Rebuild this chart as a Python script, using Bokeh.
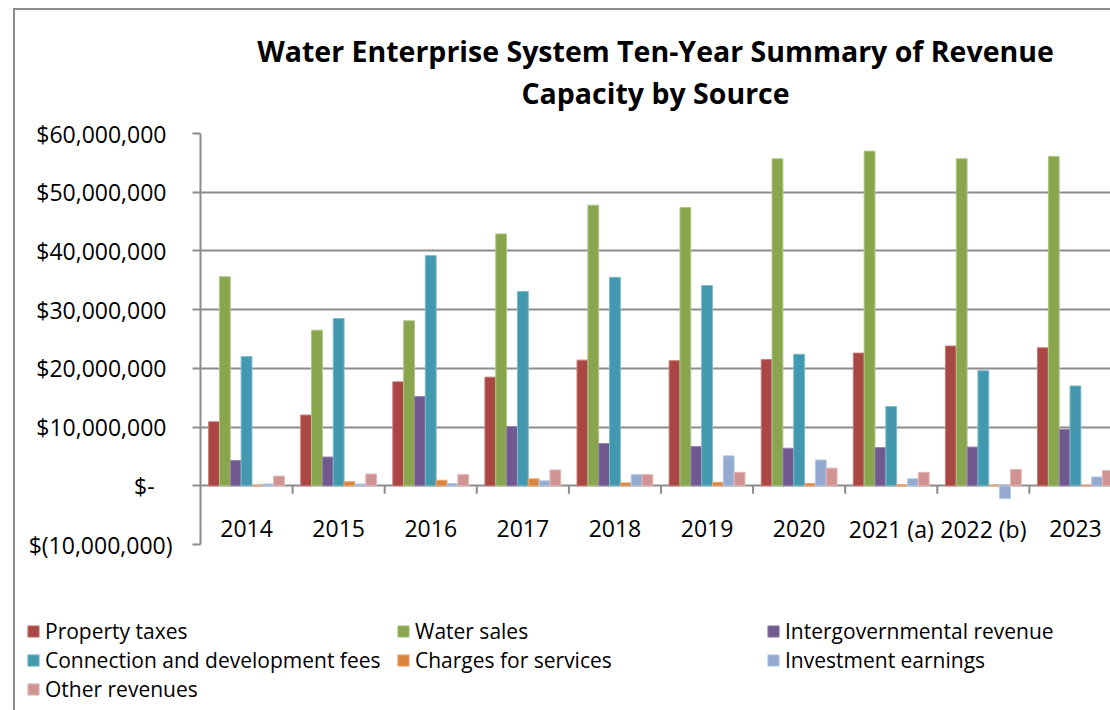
import numpy as np
from bokeh.plotting import figure
from bokeh.models import (Range1d, FixedTicker, CustomJSTickFormatter, Title,
                          Legend, ColumnDataSource)
from bokeh.core.properties import value
from bokeh.embed import file_html
from bokeh.resources import INLINE

# ---------------- data ----------------
years = ["2014", "2015", "2016", "2017", "2018", "2019", "2020",
         "2021 (a)", "2022 (b)", "2023"]
property_taxes = [10_900_000, 12_050_000, 17_700_000, 18_500_000, 21_400_000,
                  21_300_000, 21_500_000, 22_600_000, 23_800_000, 23_500_000]
water_sales = [35_600_000, 26_500_000, 28_100_000, 42_900_000, 47_800_000,
               47_400_000, 55_700_000, 57_000_000, 55_700_000, 56_100_000]
intergovernmental = [4_300_000, 4_900_000, 15_200_000, 10_100_000, 7_200_000,
                     6_700_000, 6_400_000, 6_500_000, 6_600_000, 9_600_000]
connection_fees = [22_000_000, 28_500_000, 39_200_000, 33_100_000, 35_500_000,
                   34_100_000, 22_400_000, 13_500_000, 19_600_000, 17_000_000]
charges_services = [0, 700_000, 950_000, 1_200_000, 500_000,
                    600_000, 400_000, 200_000, 100_000, 0]
investment_earnings = [300_000, 300_000, 400_000, 850_000, 1_900_000,
                       5_100_000, 4_400_000, 1_200_000, -2_200_000, 1_500_000]
other_revenues = [1_650_000, 2_000_000, 1_900_000, 2_700_000, 1_900_000,
                  2_300_000, 3_000_000, 2_300_000, 2_800_000, 2_600_000]

series_names = ["Property taxes", "Water sales", "Intergovernmental revenue",
                "Connection and development fees", "Charges for services",
                "Investment earnings", "Other revenues"]
series_values = [property_taxes, water_sales, intergovernmental, connection_fees,
                 charges_services, investment_earnings, other_revenues]
fill_colors = ["#AA4643", "#89A54E", "#71588F", "#4198AF", "#DB843D", "#93A9CF", "#D19392"]
edge_colors = ["#C97A77", "#AFC788", "#9886AE", "#7DBACB", "#EDAA74", "#B9C9E3", "#E5B8B7"]

title_lines = ["Water Enterprise System Ten-Year Summary of Revenue", "Capacity by Source"]

y_ticks = [-10_000_000, 0, 10_000_000, 20_000_000, 30_000_000,
           40_000_000, 50_000_000, 60_000_000]
grid_ticks = [0, 10_000_000, 20_000_000, 30_000_000, 40_000_000, 50_000_000, 60_000_000]

# ---------------- layout constants ----------------
W = 1110
H_CHART, H_LEG = 560, 150
left_border, top_border, bottom_border = 200, 133, 16
frame_w = W - left_border
frame_h = H_CHART - top_border - bottom_border
cat_px = 92.1
font = "Open Sans"
gray = "#8C8C8C"
line_bg = "linear-gradient(#8C8C8C,#8C8C8C)"

y_start, y_end = y_ticks[0], y_ticks[-1]

p = figure(width=W, height=H_CHART, output_backend="svg", toolbar_location=None,
           x_range=Range1d(0, frame_w / cat_px), y_range=Range1d(y_start, y_end),
           x_axis_location=None, min_border_left=left_border, min_border_right=0,
           min_border_top=top_border, min_border_bottom=bottom_border)
p.styles = {"background": f"{line_bg} 13px 8px / 2px 100% no-repeat, "
                          f"{line_bg} 13px 8px / 100% 2px no-repeat"}
p.outline_line_color = None
p.background_fill_color = "white"
p.border_fill_alpha = 0

# blank spacer panel between the plot area and the title lines
p.add_layout(Title(text=" ", text_font_size="1px", standoff=19), "above")

# title lines, each centred (nearest the plot added first)
for line, standoff in ((title_lines[1], 0), (title_lines[0], 3)):
    p.add_layout(Title(text=line, align="center", text_font=font,
                       text_font_size="28.5px", text_font_style="bold",
                       text_color="black", standoff=standoff), "above")

# y axis
yax = p.yaxis[0]
yax.ticker = FixedTicker(ticks=y_ticks)
yax.formatter = CustomJSTickFormatter(code="""
    const s = Math.abs(tick).toFixed(0).replace(/\\B(?=(\\d{3})+(?!\\d))/g, ",");
    if (tick == 0) return "$-\\u00a0\\u00a0\\u00a0";
    if (tick < 0) return "$(" + s + ")";
    return "$" + s + "\\u00a0";
""")
yax.axis_line_color = gray
yax.axis_line_width = 2
yax.major_tick_line_color = gray
yax.major_tick_line_width = 2
yax.major_tick_out = 8
yax.major_tick_in = 0
yax.minor_tick_line_color = None
yax.major_label_standoff = 20
yax.major_label_text_font = font
yax.major_label_text_font_size = "23px"
yax.major_label_text_color = "black"

p.xgrid.visible = False
p.ygrid.ticker = FixedTicker(ticks=grid_ticks)
p.ygrid.grid_line_color = gray
p.ygrid.grid_line_width = 2

# bars
n = len(series_names)
bw = 1.0 / (n + 1.5)
idx = np.arange(len(years))
sources = []
for j, (name, vals) in enumerate(zip(series_names, series_values)):
    xs = idx + 0.5 + (j - (n - 1) / 2) * bw
    src = ColumnDataSource(dict(x=xs, top=vals))
    sources.append(src)
    p.vbar(x="x", top="top", bottom=0, width=bw, source=src,
           fill_color=fill_colors[j], line_color=edge_colors[j], line_width=1)

# category tick marks below the zero line
tick_len = 8 * (y_end - y_start) / frame_h
bounds = np.arange(1, len(years) + 1)
p.segment(x0=bounds, x1=bounds, y0=np.zeros(len(bounds)), y1=np.full(len(bounds), -tick_len),
          line_color=gray, line_width=2)

# category labels
lab_src = ColumnDataSource(dict(x=idx + 0.5, y=np.zeros(len(years)), t=years))
p.text(x="x", y="y", text="t", source=lab_src, text_align="center",
       text_baseline="alphabetic", y_offset=43, text_font=value(font),
       text_font_size="23px", text_color="black")

# ---------------- legend strip (separate root below the chart) ----------------
# its ranges sit above every value, so only the legend itself is visible
pl = figure(width=W, height=H_LEG, output_backend="svg", toolbar_location=None,
            x_range=Range1d(0, frame_w / cat_px), y_range=Range1d(2 * y_end, 3 * y_end),
            x_axis_location=None, y_axis_location=None,
            min_border_left=0, min_border_right=0, min_border_top=0, min_border_bottom=0)
pl.styles = {"background": f"{line_bg} 13px 0 / 2px 100% no-repeat"}
pl.outline_line_color = None
pl.grid.visible = False
pl.background_fill_alpha = 0
pl.border_fill_alpha = 0

items = []
for j, name in enumerate(series_names):
    r = pl.vbar(x="x", top="top", bottom=0, width=bw, source=sources[j],
                fill_color=fill_colors[j], line_color=edge_colors[j], line_width=1)
    items.append((name, [r]))

legend = Legend(items=items, orientation="horizontal", ncols=3,
                location=(26, 7), padding=0, margin=0, spacing=1,
                glyph_width=14, glyph_height=14, label_height=14, label_width=350,
                label_standoff=5, label_text_font=font, label_text_font_size="21px",
                label_text_color="black", border_line_color=None,
                background_fill_alpha=0)
pl.add_layout(legend, "center")

open("out.html", "w").write(file_html([p, pl], INLINE))
